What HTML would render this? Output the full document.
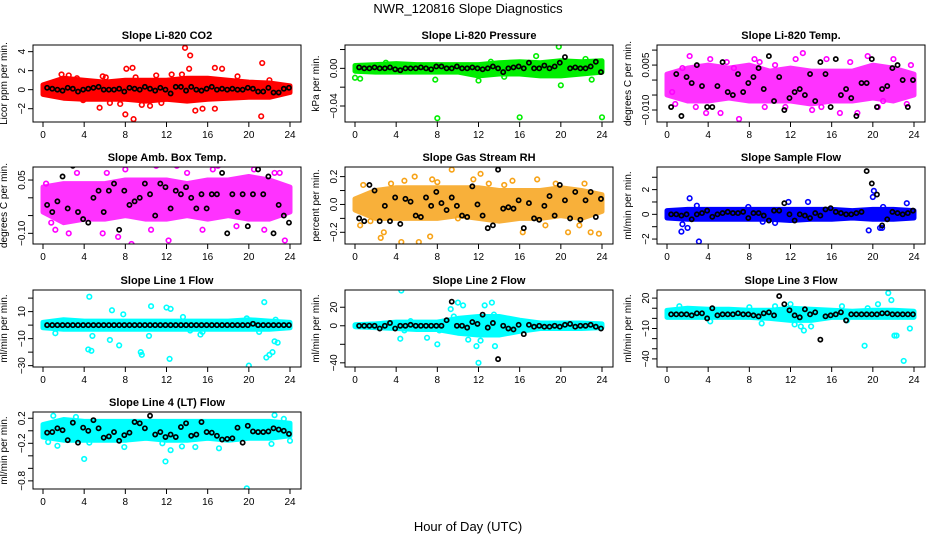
<!DOCTYPE html>
<html><head><meta charset="utf-8"><style>
body{margin:0;background:#fff;}
svg{display:block;font-family:"Liberation Sans",sans-serif;}
</style></head><body>
<svg id="chart" width="936" height="540" viewBox="0 0 936 540" xmlns="http://www.w3.org/2000/svg">
<rect width="936" height="540" fill="#fff"/>
<text x="468" y="13" font-size="13" text-anchor="middle">NWR_120816  Slope Diagnostics</text>
<text x="468" y="531" font-size="13" text-anchor="middle">Hour of Day (UTC)</text>
</svg>
<script>
// x ticks
const xTicks=[0,4,8,12,16,20,24];
// band hours
const bandHours=[0,2,4,6,8,10,12,14,16,18,20,22,24];

// CO2
const co2Lo=[-0.5,-0.9,-1,-1,-1,-1.2,-1,-1.2,-1,-0.9,-0.8,-0.8,-0.3];
const co2Hi=[0.5,1.2,1.0,0.8,1.0,1.0,1.0,1.2,1.2,1.0,0.8,0.7,0.4];
const co2Pts=[[1.8,1.6],[2.5,1.5],[3.3,1.2],[5.5,-1.9],[5.8,1.4],[6.1,1.3],[7.5,-1.5],[8,-2.6],[8.1,2.2],[8.7,2.3],[8.8,-3.1],[9.6,-1.6],[10.4,-1.7],[11,1.5],[13.8,4.4],[14.2,2.2],[14.3,3.6],[14.8,-2.2],[15.5,-2],[16.7,2.3],[16.7,-2],[17.4,2.2],[18.9,1.4],[21.3,2.8],[21.2,-2.8],[13.5,1.6],[12.5,1.6],[9,1.3],[22,1],[6.5,-1.4],[3.9,-1.1],[11.5,-1.4]];
const co2Blk=[0.2,0.1,0,-0.1,0.2,0.1,-0.2,0,0.1,0.2,0.3,0,0,0,0.1,-0.2,0.2,0.1,0,0.3,0.1,-0.1,0.2,0,-0.4,0.3,0.3,-0.1,0.3,0,-0.1,0.1,0.3,0,0.1,0,0.1,0,0,0.2,0.1,-0.2,-0.2,0.2,-0.3,-0.3,0.1,0.2];

// Pressure
const presLo=[-0.003,-0.004,-0.004,-0.004,-0.004,-0.004,-0.008,-0.006,-0.006,-0.008,-0.008,-0.006,-0.004];
const presHi=[0.003,0.004,0.005,0.004,0.004,0.004,0.004,0.006,0.007,0.006,0.008,0.007,0.008];
const presPts=[[0,-0.01],[0.5,-0.011],[8,-0.053],[16,-0.052],[24,-0.052],[19.8,0.023],[20,-0.018],[17.6,0.013],[12,-0.013],[14.5,-0.009],[23,-0.012],[7.8,-0.012],[3,0.006],[15.3,0.005],[13.2,0.007],[22.4,0.010]];
const presBlk=[0.001,0,0,0.001,0,0,0.001,-0.001,-0.002,0,0,0,0.001,0,-0.001,0.002,0.002,0,0,0.002,0,0,0.001,0,-0.001,0,0.002,0,-0.004,0,0.001,0.002,0,0.006,0,0,0.003,0,0.002,0.006,0.012,0,0.001,0,0,0.002,0.007,-0.004];

// Li-820 Temp
const tempLo=[-0.005,-0.007,-0.007,-0.006,-0.007,-0.007,-0.007,-0.008,-0.007,-0.007,-0.006,-0.007,-0.005];
const tempHi=[0.002,0.004,0.005,0.004,0.005,0.003,0.004,0.003,0.003,0.003,0.005,0.004,0.002];
const tempPts=[[0.5,-0.004],[1.5,0.004],[2.2,0.008],[3.8,-0.011],[4.2,0.007],[5.2,-0.011],[7,-0.013],[8.5,0.007],[9.5,-0.009],[10.5,0.005],[13.2,0.009],[14.1,-0.010],[15.5,0.007],[16.8,-0.011],[18.5,-0.011],[19.5,0.008],[21,-0.007],[22,0.007],[23.3,-0.008],[6.5,0.004],[11.5,-0.009],[17.8,0.006],[0.8,-0.008],[2.8,-0.009],[5.8,0.006],[9,0.006],[12.5,0.007],[15,-0.009],[20.5,-0.009],[23.7,0.005]];
const tempBlk=[-0.009,0.002,-0.012,0.001,-0.001,0.005,-0.002,-0.009,-0.009,-0.002,0.006,-0.004,-0.005,0.002,-0.004,-0.001,0.001,0.004,-0.003,0.008,-0.007,0.001,-0.010,-0.006,-0.004,-0.003,-0.005,0.002,-0.007,0.006,0.002,-0.009,0.007,-0.005,-0.003,-0.006,-0.012,-0.001,-0.001,0.007,-0.009,-0.003,-0.002,0.004,0.005,0.000,-0.009,0.000];

// Amb Box Temp
const ambLo=[-0.04,-0.07,-0.06,-0.06,-0.05,-0.06,-0.06,-0.05,-0.06,-0.05,-0.06,-0.06,-0.04];
const ambHi=[0.03,0.04,0.04,0.04,0.05,0.05,0.05,0.04,0.05,0.05,0.06,0.05,0.03];
const ambPts=[[0.8,-0.07],[2.5,-0.1],[4,0.11],[5.8,-0.1],[7.3,-0.11],[8.6,-0.13],[9.5,0.1],[10.5,-0.09],[12.2,-0.12],[13,0.09],[15.5,-0.09],[17,0.09],[18.3,0.11],[19.2,0.13],[20.5,0.08],[21.5,-0.09],[23.5,-0.12],[16.5,0.08],[3.3,0.07],[11,0.09],[1.2,-0.09],[22.5,0.07],[0.3,0.04],[6.2,0.07],[8,0.08],[14,0.07],[18.8,-0.08],[23,0.07]];
const ambBlk=[-0.02,-0.04,-0.01,0.06,-0.03,0.09,-0.04,-0.06,-0.07,0.00,0.02,-0.04,0.02,0.04,-0.09,0.02,-0.02,-0.01,0.00,0.04,0.01,-0.05,0.04,0.03,-0.03,0.02,0.01,0.03,0.00,-0.03,0.01,-0.03,0.01,0.01,0.07,-0.10,0.01,-0.04,0.01,-0.08,0.01,0.08,0.01,0.06,-0.10,-0.02,-0.05,-0.07];

// Gas stream RH
const rhLo=[-0.04,-0.1,-0.1,-0.1,-0.1,-0.08,-0.1,-0.12,-0.1,-0.1,-0.08,-0.1,-0.05];
const rhHi=[0.04,0.1,0.12,0.12,0.12,0.12,0.12,0.1,0.1,0.1,0.12,0.1,0.07];
const rhPts=[[0.8,0.14],[2.5,-0.24],[2.8,-0.2],[3.5,0.15],[4.5,-0.27],[5.8,0.2],[6.2,-0.27],[7.3,-0.23],[7.5,0.18],[9.4,0.25],[10,-0.1],[11.5,0.18],[12.2,0.22],[13,0.15],[15.3,0.17],[16.3,-0.2],[17.7,0.18],[19.5,0.15],[20.7,-0.2],[22.3,0.15],[22.9,-0.2],[23.7,-0.21],[21.8,-0.15],[1.5,-0.12],[0.5,-0.15],[4.8,0.17],[8,0.16],[14.5,0.14],[18.5,-0.15]];
const rhBlk=[-0.1,-0.12,0.14,0.1,-0.12,-0.01,-0.12,0.05,-0.14,0.04,0.02,-0.08,-0.09,0.05,-0.01,0.09,0.01,-0.04,0.05,-0.01,-0.08,-0.09,0.13,0.0,-0.08,-0.17,-0.15,0.25,-0.03,-0.02,-0.03,0.03,-0.17,0.01,-0.1,-0.11,-0.01,0.06,-0.08,0.14,0.03,-0.1,0.09,-0.11,0.03,0.09,-0.09,0.04];

// Sample flow
const sfLo=[-0.3,-0.4,-0.4,-0.4,-0.4,-0.4,-0.5,-0.4,-0.4,-0.3,-0.4,-0.4,-0.3];
const sfHi=[0.3,0.4,0.4,0.4,0.4,0.4,0.4,0.4,0.4,0.3,0.4,0.4,0.3];
const sfPts=[[1.4,-1.4],[1.5,-0.8],[2.2,1.3],[2,-1.1],[3.1,-2.2],[2.9,0.7],[7.9,0.6],[11.8,1.0],[13.7,1.0],[19.6,-1.3],[20,1.4],[20.1,1.9],[20.7,-1.1],[20.9,-1.1],[21,0.6],[23.3,0.9],[9.3,-0.6],[10.5,-0.7]];
const sfBlk=[0,0,-0.1,0,-0.4,0,0.1,0.3,-0.2,0,0.1,0.2,0.1,0.1,0.2,-0.3,0.1,0.1,-0.1,-0.5,0.3,0.3,0.9,0,-0.5,0,-0.1,-0.3,0.1,-0.1,0.4,0.5,0.2,0.1,0,0,0.1,0.2,3.5,2.5,1.6,-0.9,-0.4,0.2,0.1,0,0.1,0.3];

// Line 1 flow
const l1Lo=[-2,-3,-3,-3,-3,-3,-3,-3,-3,-3,-3,-3,-2];
const l1Hi=[2,4,3,3,3,3,3,3,3,3,4,3,2];
const l1Pts=[[1.2,-6],[4.5,21],[4.4,-18],[4.7,-19],[4.8,-8],[6.5,-11],[6.7,11],[7.4,-15],[7.8,8],[9.5,-20],[9.6,-22],[10.3,-8],[10.5,14],[12.3,-25],[12,13],[12.4,12],[13.6,6],[14.3,-4],[15.3,-7],[15.5,-5],[19.8,5],[20,-30],[21,-5],[21.7,-24],[21.5,17],[22,-22],[22.3,-20],[22.5,-12],[22.8,-13],[22.6,4]];
const l1Blk=[0,0,0,0,0,0,0,0,0,0,0,0,0,0,0,0,0,0,0,0,0,0,0,0,0,0,0,0,0,0,0,0,0,0,0,0,0,0,0,0,1,0,0,0,0,0,0,0];

// Line 2 flow
const l2Lo=[-1,-2,-3,-4,-4,-8,-10,-10,-6,-3,-3,-3,-2];
const l2Hi=[1,2,4,4,4,8,10,10,6,3,3,3,2];
const l2Pts=[[4.5,38],[4.4,-14],[4.8,-5],[5.4,5],[7,-13],[8,-20],[8.2,-5],[9.3,18],[9.6,10],[10,25],[10.5,22],[11.2,-4],[11,-15],[11.8,-22],[12,-40],[12.2,-16],[12.6,22],[12.8,-8],[13.3,25],[13.6,-22],[13.5,12],[14.3,5]];
const l2Blk=[0,0,0,0,-3,0,3,-3,0,0,1,0,0,0,0,0,0,6,26,0,0,-2,4,2,12,-2,3,-36,0,-3,-4,1,-9,1,-1,0,-1,-1,0,-1,1,2,-1,0,0,1,-1,-3];

// Line 3 flow
const l3Lo=[1,1,1,1,1,0,-2,-2,1,1,1,1,1];
const l3Hi=[8,10,9,9,8,8,10,9,8,7,8,8,7];
const l3Pts=[[1.2,12],[1.5,8],[4.2,-3],[8,11],[9.2,-5],[10.5,12],[10.8,8],[12,14],[12.4,-6],[13,-8],[13.3,-12],[14,-8],[14.5,8],[17,12],[17.5,-2],[19.2,-27],[19.5,10],[20.5,14],[21.5,25],[21.8,18],[22.1,-17],[22.3,-17],[23,-42],[23.6,-10]];
const l3Blk=[4,4,4,4,3,5,5,0,10,3,4,4,4,5,4,4,3,2,5,6,3,22,14,8,3,1,9,4,6,-21,2,3,4,6,-2,4,4,4,4,4,4,5,5,4,4,4,4,4];

// Line 4 flow
const l4Lo=[-0.1,-0.15,-0.15,-0.15,-0.15,-0.12,-0.15,-0.15,-0.12,-0.15,-0.12,-0.12,-0.08];
const l4Hi=[0.1,0.18,0.15,0.15,0.15,0.15,0.15,0.15,0.15,0.15,0.15,0.15,0.12];
const l4Pts=[[0.5,-0.18],[1,0.24],[1.4,-0.24],[3.2,0.22],[4,-0.45],[4.5,-0.19],[7.9,-0.26],[11.6,-0.2],[11.9,-0.49],[12.4,-0.31],[13.5,-0.25],[14.8,-0.26],[17.1,-0.28],[19.8,-0.92],[22.5,0.25],[22.2,-0.21],[23.4,0.19],[24,-0.16]];
const l4Blk=[-0.03,-0.02,0.04,0.01,-0.15,0.13,-0.19,0.05,0.00,0.17,0.04,-0.11,-0.09,-0.02,-0.16,-0.07,-0.03,0.14,0.12,0.04,0.24,-0.06,-0.02,-0.1,-0.06,-0.1,0.06,0.12,-0.08,-0.06,0.14,-0.02,-0.03,-0.08,-0.14,-0.13,-0.12,0.05,-0.19,0.08,-0.01,-0.02,-0.02,-0.01,0.04,0.02,0.0,-0.05];

const panels=[
 {id:'co2',title:'Slope Li-820 CO2',ylab:'Licor ppm per min.',c:0,r:0,yMin:-3.4,yMax:4.7,ticks:[-2,0,2,4],labels:['−2','0','2','4'],color:'#ff0000',op:1,lo:co2Lo,hi:co2Hi,pts:co2Pts,blk:co2Blk},
 {id:'pressure',title:'Slope Li-820 Pressure',ylab:'kPa per min.',c:1,r:0,yMin:-0.057,yMax:0.0248,ticks:[-0.04,-0.02,0,0.02],labels:['−0.04','','0.00',''],color:'#00ee00',op:1,lo:presLo,hi:presHi,pts:presPts,blk:presBlk},
 {id:'li820-temp',title:'Slope Li-820 Temp.',ylab:'degrees C per min.',c:2,r:0,yMin:-0.014,yMax:0.0117,ticks:[-0.01,-0.005,0,0.005,0.01],labels:['−0.010','','','0.005',''],color:'#ff00ff',op:0.8,lo:tempLo,hi:tempHi,pts:tempPts,blk:tempBlk},
 {id:'amb-box-temp',title:'Slope Amb. Box Temp.',ylab:'degrees C per min.',c:0,r:1,yMin:-0.13,yMax:0.0867,ticks:[-0.1,-0.05,0,0.05],labels:['−0.10','','','0.05'],color:'#ff00ff',op:0.8,lo:ambLo,hi:ambHi,pts:ambPts,blk:ambBlk},
 {id:'gas-stream-rh',title:'Slope Gas Stream RH',ylab:'percent per min.',c:1,r:1,yMin:-0.284,yMax:0.269,ticks:[-0.2,-0.1,0,0.1,0.2],labels:['−0.2','','0.0','','0.2'],color:'#f7a318',op:0.85,lo:rhLo,hi:rhHi,pts:rhPts,blk:rhBlk},
 {id:'sample-flow',title:'Slope Sample Flow',ylab:'ml/min per min.',c:2,r:1,yMin:-2.4,yMax:3.83,ticks:[-2,-1,0,1,2,3],labels:['−2','','0','','2',''],color:'#0000ff',op:1,lo:sfLo,hi:sfHi,pts:sfPts,blk:sfBlk},
 {id:'line1-flow',title:'Slope Line 1 Flow',ylab:'ml/min per min.',c:0,r:2,yMin:-31,yMax:26,ticks:[-30,-20,-10,0,10,20],labels:['−30','','−10','','10',''],color:'#00ffff',op:1,lo:l1Lo,hi:l1Hi,pts:l1Pts,blk:l1Blk},
 {id:'line2-flow',title:'Slope Line 2 Flow',ylab:'ml/min per min.',c:1,r:2,yMin:-44.5,yMax:38.6,ticks:[-40,-20,0,20],labels:['−40','','0','20'],color:'#00ffff',op:1,lo:l2Lo,hi:l2Hi,pts:l2Pts,blk:l2Blk},
 {id:'line3-flow',title:'Slope Line 3 Flow',ylab:'ml/min per min.',c:2,r:2,yMin:-48,yMax:28,ticks:[-40,-30,-20,-10,0,10,20],labels:['−40','','','−10','','','20'],color:'#00ffff',op:1,lo:l3Lo,hi:l3Hi,pts:l3Pts,blk:l3Blk},
 {id:'line4-flow',title:'Slope Line 4 (LT) Flow',ylab:'ml/min per min.',c:0,r:3,yMin:-0.93,yMax:0.3,ticks:[-0.8,-0.6,-0.4,-0.2,0,0.2],labels:['−0.8','','','−0.2','','0.2'],color:'#00ffff',op:1,lo:l4Lo,hi:l4Hi,pts:l4Pts,blk:l4Blk}
];

const NS='http://www.w3.org/2000/svg';
const svg=document.getElementById('chart');
const rowTops=[45,167,290,412];
function mk(tag,attrs,parent){const e=document.createElementNS(NS,tag);for(const k in attrs)e.setAttribute(k,attrs[k]);parent.appendChild(e);return e;}

panels.forEach(p=>{
  const off=p.c*312, L=33+off, R=301+off, T=rowTops[p.r], B=T+77;
  const xs=h=>43+off+h*(247/24);
  const ys=v=>B-(v-p.yMin)/(p.yMax-p.yMin)*(B-T);
  const g=mk('g',{},svg);
  
  
  const t=mk('text',{x:(L+R)/2,y:T-6,'font-size':11,'font-weight':'bold','text-anchor':'middle'},g);
  t.textContent=p.title;
  
  
  const yl=mk('text',{transform:`translate(${L-26},${(T+B)/2}) rotate(-90)`,'font-size':10,'text-anchor':'middle'},g);
  yl.textContent=p.ylab;
  
  
  const cid='clip-'+p.id;
  const cp=mk('clipPath',{id:cid},g);mk('rect',{x:L,y:T,width:R-L,height:B-T},cp);
  const pg=mk('g',{'clip-path':`url(#${cid})`},g);
  let d='';
  bandHours.forEach((h,i)=>{d+=(i?'L':'M')+xs(h).toFixed(1)+','+ys(p.hi[i]).toFixed(1);});
  for(let i=bandHours.length-1;i>=0;i--)d+='L'+xs(bandHours[i]).toFixed(1)+','+ys(p.lo[i]).toFixed(1);
  const band=mk('path',{d:d+'Z',fill:p.color,stroke:p.color,'stroke-width':5,'stroke-linejoin':'round',opacity:p.op},pg);
  
  
  p.pts.forEach(pt=>{
    const c=mk('circle',{cx:xs(pt[0]),cy:ys(pt[1]),r:2.3,fill:'none',stroke:p.color,'stroke-width':1.6},pg);
    
    
  });
  p.blk.forEach((v,i)=>{
    const c=mk('circle',{cx:xs((i+1)*0.5-0.1),cy:ys(v),r:2.1,fill:'none',stroke:'#000','stroke-width':1.7},pg);
    
    
  });
  const box=mk('rect',{x:L,y:T,width:R-L,height:B-T,fill:'none',stroke:'#000','stroke-width':1},g);
  
  
  p.ticks.forEach((v,i)=>{
    const y=ys(v);
    mk('line',{x1:L,x2:L-5,y1:y,y2:y,stroke:'#000'},g);
    if(p.labels[i]){
      const tl=mk('text',{transform:`translate(${L-8},${y}) rotate(-90)`,'font-size':10,'text-anchor':'middle'},g);
      tl.textContent=p.labels[i];
      
      
    }
  });
  xTicks.forEach(h=>{
    const x=xs(h);
    mk('line',{x1:x,x2:x,y1:B,y2:B+5,stroke:'#000'},g);
    const tl=mk('text',{x:x,y:B+16,'font-size':10,'text-anchor':'middle'},g);
    tl.textContent=h;
    
    
  });
});
</script>
</body></html>
